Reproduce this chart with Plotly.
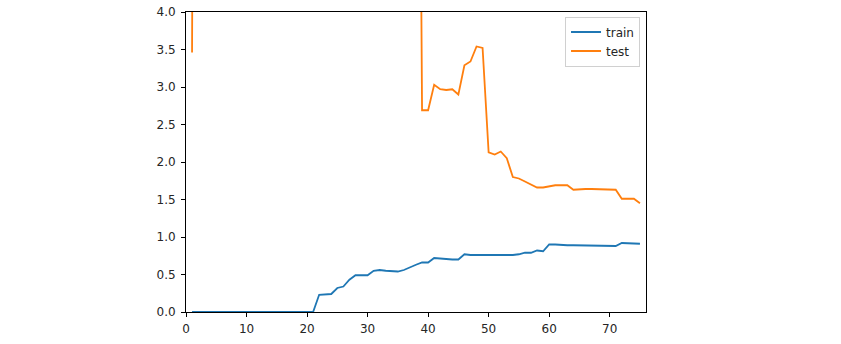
import plotly.graph_objects as go

epochs = list(range(1, 76))

train = [0.0] * 21 + [
    0.23, 0.23, 0.24, 0.32, 0.34, 0.43, 0.49, 0.49, 0.49, 0.55,
    0.56, 0.55, 0.55, 0.54, 0.56, 0.60, 0.63, 0.66, 0.66, 0.72,
    0.71, 0.71, 0.70, 0.70, 0.77, 0.76, 0.76, 0.76, 0.76, 0.75,
    0.75, 0.76, 0.76, 0.77, 0.79, 0.79, 0.82, 0.81, 0.90, 0.90,
    0.89, 0.89, 0.89, 0.89, 0.89, 0.88, 0.88, 0.88, 0.88, 0.88,
    0.92, 0.92, 0.91, 0.91,
]

test = [3.46] + [
    24.8, 19.3, 16.7, 15.2, 14.1, 13.5, 12.8, 12.2, 11.9, 11.4,
    11.0, 10.7, 10.5, 10.1, 9.8, 9.6, 9.4, 9.1, 8.9, 8.8,
    8.6, 8.4, 8.3, 8.1, 7.9, 7.8, 7.7, 7.5, 7.4, 7.3,
    7.2, 7.0, 6.9, 6.8, 6.7, 6.6, 14.5,
] + [
    2.69, 2.69, 3.03, 2.97, 2.96, 2.97, 2.90, 3.29, 3.34, 3.54,
    3.52, 2.13, 2.10, 2.14, 2.05, 1.80, 1.78, 1.74, 1.70, 1.66,
    1.66, 1.68, 1.69, 1.69, 1.69, 1.63, 1.64, 1.64, 1.64, 1.64,
    1.64, 1.64, 1.63, 1.51, 1.51, 1.51, 1.45,
]

x_ticks = [0, 10, 20, 30, 40, 50, 60, 70]
y_ticks = [0.0, 0.5, 1.0, 1.5, 2.0, 2.5, 3.0, 3.5, 4.0]

fig = go.Figure()
fig.add_trace(go.Scatter(x=epochs, y=train, mode="lines", name="train",
                         line=dict(color="#1f77b4", width=1.8)))
fig.add_trace(go.Scatter(x=epochs, y=test, mode="lines", name="test",
                         line=dict(color="#ff7f0e", width=1.8)))

axis_common = dict(showline=True, mirror=True, linecolor="#000", linewidth=1,
                   showgrid=False, zeroline=False, ticks="outside", ticklen=4,
                   tickwidth=1, tickcolor="#000", automargin=False,
                   tickfont=dict(family="DejaVu Sans", size=12, color="#262626"))

fig.update_layout(
    width=841, height=344,
    margin=dict(l=186, r=195, t=12, b=32),
    paper_bgcolor="white", plot_bgcolor="white",
    xaxis=dict(range=[0, 76], tickvals=x_ticks, ticklabelstandoff=2, **axis_common),
    yaxis=dict(range=[0, 4], tickvals=y_ticks, tickformat=".1f",
               ticklabelstandoff=3, **axis_common),
    legend=dict(x=0.987, y=0.985, xanchor="right", yanchor="top",
                bgcolor="rgba(255,255,255,0.8)", bordercolor="#d0d0d0", borderwidth=1,
                font=dict(family="DejaVu Sans", size=12, color="#262626")),
    showlegend=True,
)

fig.write_html("out.html")
